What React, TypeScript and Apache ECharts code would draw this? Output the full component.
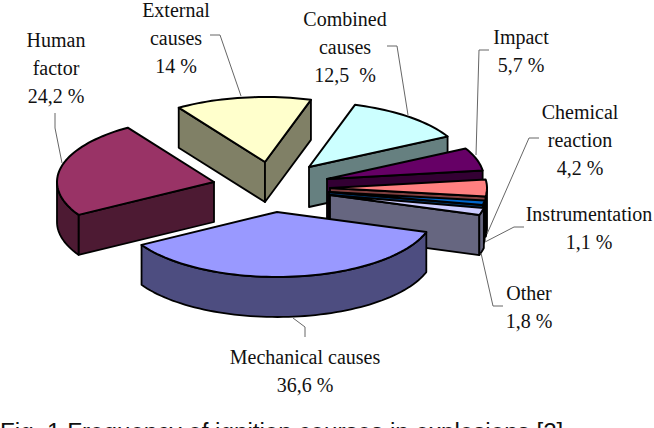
import React, { useEffect, useRef } from "react";
import * as echarts from "echarts";

// Data, clockwise from the start angle
const categories = ["Mechanical causes", "Human factor", "External causes", "Combined causes", "Impact", "Chemical reaction", "Instrumentation", "Other"];
const values = [36.6, 24.2, 14, 12.5, 5.7, 4.2, 1.1, 1.8];
const labelTexts = [
  "Mechanical causes\n36,6 %",
  "Human\nfactor\n24,2 %",
  "External\ncauses\n14 %",
  "Combined\ncauses\n12,5  %",
  "Impact\n5,7 %",
  "Chemical\nreaction\n4,2 %",
  "Instrumentation\n1,1 %",
  "Other\n1,8 %",
];
const caption = "Fig. 1 Frequency of ignition courses in explosions [2]";

// Styles and layout
const topColors = ["#9999ff", "#993366", "#ffffcc", "#ccffff", "#660066", "#ff8080", "#0066cc", "#ccccff"];
const sideColors = ["#4d4d80", "#4d1a33", "#808066", "#668080", "#330033", "#804040", "#003366", "#666680"];
const apexes = [[277, 212], [214, 182], [265, 162], [309, 167], [327, 179], [330, 188], [329, 192], [330, 195]];
const labelCenters = [[305, 371], [56, 68], [176, 38], [345, 47], [521, 51], [580, 140], [589, 228], [529, 307]];
const leaders = [
  [[305, 337], [305, 327], [293, 318]],
  [[55, 113], [55, 128], [62, 163]],
  [[210, 35], [220, 35], [241, 96]],
  [[387, 46], [397, 46], [408, 115]],
  [[489, 50], [479, 50], [476, 155]],
  [[539, 138], [529, 138], [487, 234]],
  [[524, 227], [514, 227], [485, 242]],
  [[503, 306], [493, 306], [481, 253]],
];
const paintOrder = [2, 1, 3, 4, 5, 6, 7, 0];
const START_DEG = 18;
const RX = 157;
const RY = 65;
const DEPTH = 40;
const SERIF = '"Liberation Serif", serif';

const total = values.reduce((a, b) => a + b, 0);
const spans = values.reduce<number[][]>((acc, v) => {
  const from = acc.length ? acc[acc.length - 1][1] : START_DEG;
  acc.push([from, from + (v / total) * 360]);
  return acc;
}, []);
const rad = (d: number) => (d * Math.PI) / 180;

function renderSlice(_p: any, api: any) {
  const idx = api.value(0) as number;
  const [a0, a1] = spans[idx];
  const [ax, ay] = apexes[idx];
  const rim = (deg: number, drop = 0) => [ax + RX * Math.cos(rad(deg)), ay + RY * Math.sin(rad(deg)) + drop];
  const arc = (from: number, to: number, drop = 0) => {
    const pts: number[][] = [];
    const n = Math.max(2, Math.ceil(Math.abs(to - from) / 2));
    for (let i = 0; i <= n; i++) pts.push(rim(from + ((to - from) * i) / n, drop));
    return pts;
  };
  const side = { fill: sideColors[idx], stroke: "#000", lineWidth: 1.8, lineJoin: "round" };
  const children: any[] = [];
  const poly = (points: number[][], style: any) => ({ type: "polygon", shape: { points }, style });
  if (-Math.cos(rad(a0)) > 0) {
    children.push(poly([[ax, ay], rim(a0), rim(a0, DEPTH), [ax, ay + DEPTH]], side));
  }
  if (Math.cos(rad(a1)) > 0) {
    children.push(poly([[ax, ay], rim(a1), rim(a1, DEPTH), [ax, ay + DEPTH]], side));
  }
  // The outer wall is visible on the part of the rim that faces the viewer.
  for (const base of [0, 360]) {
    const f = Math.max(a0, base);
    const t = Math.min(a1, base + 180);
    if (t > f) {
      children.push(poly([...arc(f, t), ...arc(t, f, DEPTH)], side));
    }
  }
  children.push(poly([[ax, ay], ...arc(a0, a1)], { fill: topColors[idx], stroke: "#000", lineWidth: 2, lineJoin: "round" }));
  return { type: "group", children };
}

export default function App() {
  const ref = useRef<HTMLDivElement>(null);
  useEffect(() => {
    const chart = echarts.init(ref.current!, undefined, { renderer: "svg" });
    const graphic: any[] = [];
    leaders.forEach((points) => {
      graphic.push({ type: "polyline", z: 10, shape: { points }, style: { fill: "none", stroke: "#666", lineWidth: 1 } });
    });
    labelTexts.forEach((text, i) => {
      graphic.push({
        type: "text",
        z: 11,
        x: labelCenters[i][0],
        y: labelCenters[i][1],
        style: { text, fill: "#111", font: `20px ${SERIF}`, lineHeight: 27.6, align: "center", verticalAlign: "middle" },
      });
    });
    graphic.push({
      type: "text",
      z: 11,
      x: 0,
      y: 419,
      style: { text: caption, fill: "#111", font: '24.2px "Liberation Sans", sans-serif', align: "left", verticalAlign: "top" },
    });
    chart.setOption({
      animation: false,
      backgroundColor: "#fff",
      series: [
        {
          type: "custom",
          coordinateSystem: "none",
          silent: true,
          renderItem: renderSlice,
          data: paintOrder.map((i) => ({ name: categories[i], value: [i, values[i]] })),
        },
      ],
      graphic,
    });
    return () => chart.dispose();
  }, []);
  return <div ref={ref} style={{ position: "absolute", left: 0, top: 0, width: 654, height: 428, overflow: "hidden" }} />;
}
